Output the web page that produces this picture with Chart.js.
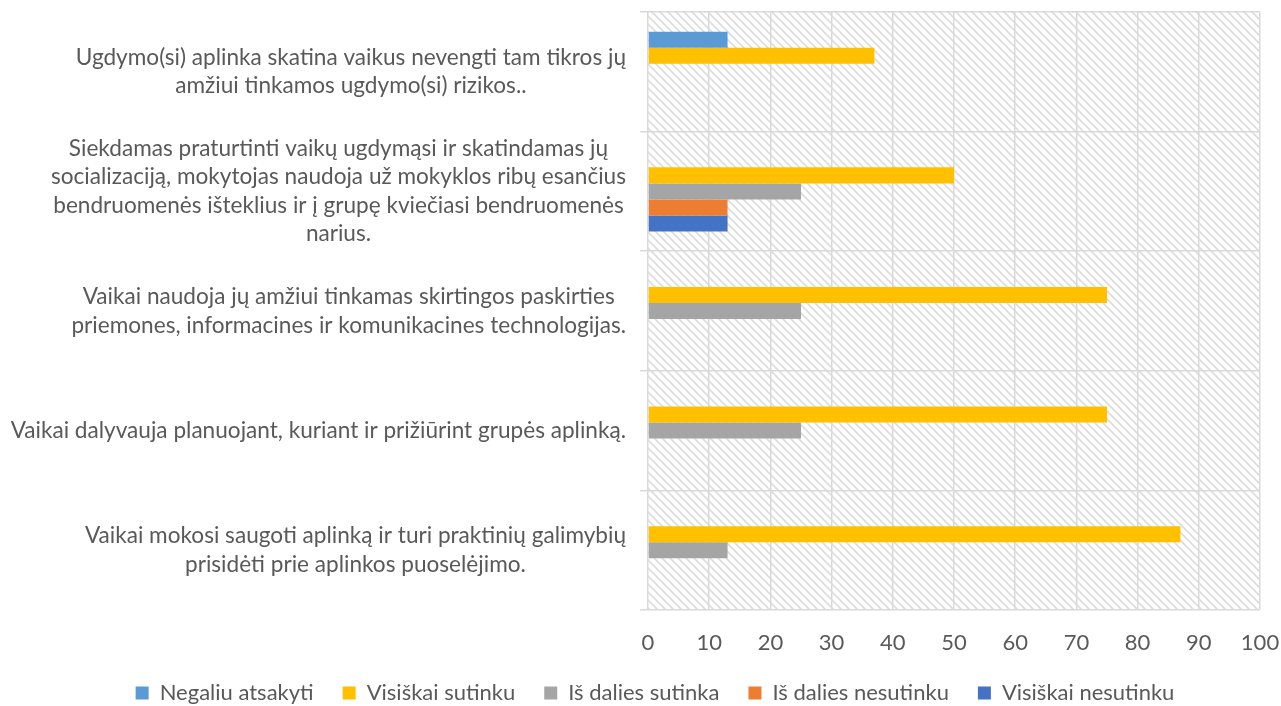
<!DOCTYPE html>
<html>
<head>
<meta charset="utf-8">
<script src="https://cdn.jsdelivr.net/npm/chart.js@4.4.0/dist/chart.umd.min.js"></script>
<style>
  html, body { margin: 0; padding: 0; background: #fff; }
  #wrap { width: 1281px; height: 706px; }
</style>
</head>
<body>
<div id="wrap"><canvas id="barChart"></canvas></div>
<script>
const categories = [
    ['Ugdymo(si) aplinka skatina vaikus nevengti tam tikros jų', 'amžiui tinkamos ugdymo(si) rizikos..'],
    ['Siekdamas praturtinti vaikų ugdymąsi ir skatindamas jų', 'socializaciją, mokytojas naudoja už mokyklos ribų esančius', 'bendruomenės išteklius ir į grupę kviečiasi bendruomenės', 'narius.'],
    ['Vaikai naudoja jų amžiui tinkamas skirtingos paskirties', 'priemones, informacines ir komunikacines technologijas.'],
    ['Vaikai dalyvauja planuojant, kuriant ir prižiūrint grupės aplinką.'],
    ['Vaikai mokosi saugoti aplinką ir turi praktinių galimybių', 'prisidėti prie aplinkos puoselėjimo.']
];
const seriesNames = ['Negaliu atsakyti', 'Visiškai sutinku', 'Iš dalies sutinka', 'Iš dalies nesutinku', 'Visiškai nesutinku'];
const negaliuAtsakyti = [13, 0, 0, 0, 0];
const visiskaiSutinku = [37, 50, 75, 75, 87];
const isDaliesSutinka = [0, 25, 25, 25, 13];
const isDaliesNesutinku = [0, 13, 0, 0, 0];
const visiskaiNesutinku = [0, 13, 0, 0, 0];
const xTicks = [0, 10, 20, 30, 40, 50, 60, 70, 80, 90, 100];

const seriesColors = ['#5B9BD5', '#FFC000', '#A5A5A5', '#ED7D31', '#4472C4'];
const seriesValues = [negaliuAtsakyti, visiskaiSutinku, isDaliesSutinka, isDaliesNesutinku, visiskaiNesutinku];
const textColor = '#595959';
const fontFamily = 'Lato, "Open Sans", sans-serif';
const fontSize = 22;
const padLeft = 50;

// hatch pattern for the plot background
function makeHatch() {
    const c = document.createElement('canvas');
    c.width = 8; c.height = 8;
    const g = c.getContext('2d');
    g.strokeStyle = '#DCDCDC';
    g.lineWidth = 1.6;
    g.beginPath();
    g.moveTo(-2, -2); g.lineTo(10, 10);
    g.moveTo(-2, 6); g.lineTo(2, 10);
    g.moveTo(6, -2); g.lineTo(10, 2);
    g.stroke();
    return g.createPattern(c, 'repeat');
}

const hatchBackground = {
    id: 'hatchBackground',
    beforeDraw(chart) {
        const { ctx, chartArea: a } = chart;
        ctx.save();
        ctx.fillStyle = makeHatch();
        ctx.fillRect(a.left, a.top, a.right - a.left, a.bottom - a.top);
        ctx.restore();
    }
};

// category labels: each block centered on its widest line, right edge near the axis
const blockLabels = {
    id: 'blockLabels',
    afterDraw(chart) {
        const { ctx } = chart;
        const scale = chart.scales.y;
        const right = scale.right - 22;
        const lineH = 28.5;
        ctx.save();
        ctx.font = '22.6px ' + fontFamily;
        ctx.fillStyle = textColor;
        ctx.textAlign = 'center';
        ctx.textBaseline = 'middle';
        categories.forEach((lines, i) => {
            const yc = scale.getPixelForTick(i);
            const maxW = Math.max(...lines.map(l => ctx.measureText(l).width));
            const cx = right - maxW / 2;
            const y0 = yc - (lines.length - 1) * lineH / 2;
            lines.forEach((l, j) => ctx.fillText(l, cx, y0 + j * lineH));
        });
        ctx.restore();
    }
};

const ctx = document.getElementById('barChart').getContext('2d');
const barChart = new Chart(ctx, {
    type: 'bar',
    data: {
        labels: categories.map(c => c.join(' ')),
        datasets: seriesNames.map((name, i) => ({
            label: name,
            data: seriesValues[i],
            backgroundColor: seriesColors[i],
            borderWidth: 0,
            barPercentage: 1,
            categoryPercentage: 0.67
        }))
    },
    options: {
        indexAxis: 'y',
        responsive: true,
        maintainAspectRatio: false,
        animation: false,
        layout: { padding: { top: 12, right: 21, left: padLeft, bottom: -8 } },
        scales: {
            x: {
                min: 0, max: 100,
                afterBuildTicks: s => { s.ticks = xTicks.map(v => ({ value: v })); },
                afterFit: s => { s.height = 43; s.paddingRight = 0; s.paddingLeft = 0; },
                grid: { color: '#D9D9D9', lineWidth: 1.5, drawTicks: false },
                border: { display: false },
                ticks: { color: textColor, font: { family: fontFamily, size: fontSize }, padding: 20 }
            },
            y: {
                afterFit: s => { s.width = 648 - padLeft; },
                grid: { color: '#D9D9D9', lineWidth: 1.5, tickLength: 8, offset: true },
                border: { display: false },
                ticks: { display: false }
            }
        },
        plugins: {
            legend: {
                position: 'bottom',
                labels: {
                    color: textColor,
                    font: { family: fontFamily, size: fontSize },
                    boxWidth: 13,
                    boxHeight: 13,
                    padding: 29
                }
            },
            tooltip: { enabled: false }
        }
    },
    plugins: [hatchBackground, blockLabels]
});
</script>
</body>
</html>
